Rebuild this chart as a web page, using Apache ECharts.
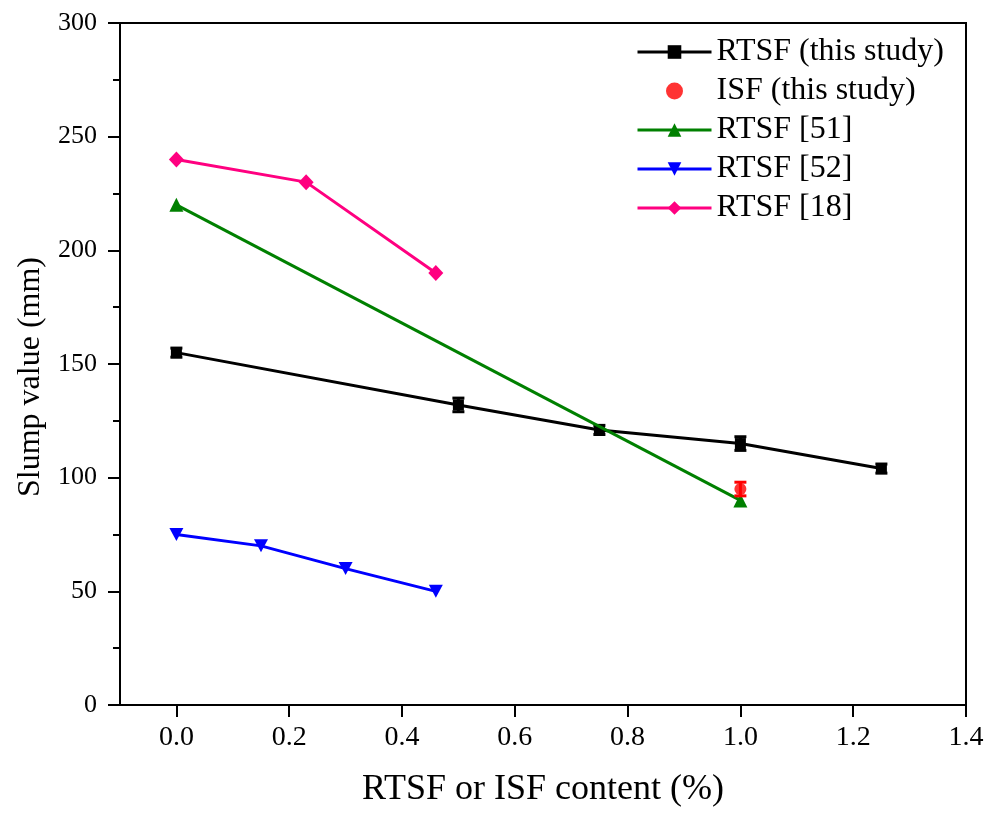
<!DOCTYPE html>
<html>
<head>
<meta charset="utf-8">
<script src="https://cdn.jsdelivr.net/npm/echarts@6/dist/echarts.min.js"></script>
<style>html,body{margin:0;padding:0;background:#fff;}#c{width:990px;height:818px;}</style>
</head>
<body>
<div id="c"></div>
<script>
var rtsfX = [0, 0.5, 0.75, 1.0, 1.25];
var rtsfY = [155, 132, 121, 115, 104];
var rtsfErr = [2, 3, 2, 3, 2];
var isfX = [1.0];
var isfY = [95];
var isfErr = [3];
var r51X = [0, 1.0];
var r51Y = [220, 90];
var r52X = [0, 0.15, 0.3, 0.46];
var r52Y = [75, 70, 60, 50];
var r18X = [0, 0.23, 0.46];
var r18Y = [240, 230, 190];
var xTicks = [0, 0.2, 0.4, 0.6, 0.8, 1.0, 1.2, 1.4];
var yTicks = [0, 50, 100, 150, 200, 250, 300];

function zip(xs, ys) { return xs.map(function (x, i) { return [x, ys[i]]; }); }
function zipErr(xs, ys, es) { return xs.map(function (x, i) { return [x, ys[i], es[i]]; }); }

function errRender(color) {
  return function (params, api) {
    var x = api.value(0), y = api.value(1), e = api.value(2);
    var hi = api.coord([x, y + e]);
    var lo = api.coord([x, y - e]);
    var w = 6;
    var st = { stroke: color, lineWidth: 3 };
    return {
      type: 'group',
      children: [
        { type: 'line', shape: { x1: hi[0], y1: hi[1], x2: lo[0], y2: lo[1] }, style: st },
        { type: 'line', shape: { x1: hi[0] - w, y1: hi[1], x2: hi[0] + w, y2: hi[1] }, style: st },
        { type: 'line', shape: { x1: lo[0] - w, y1: lo[1], x2: lo[0] + w, y2: lo[1] }, style: st }
      ]
    };
  };
}

var font = '"Liberation Serif", "Times New Roman", serif';
var chart = echarts.init(document.getElementById('c'));
chart.setOption({
  backgroundColor: '#fff',
  animation: false,
  textStyle: { fontFamily: font },
  grid: { left: 120, right: 24, top: 23, bottom: 113, show: true, borderColor: '#000', borderWidth: 2, backgroundColor: 'transparent' },
  legend: {
    orient: 'vertical', left: 631, top: 31,
    itemWidth: 74, itemHeight: 17, itemGap: 7,
    lineStyle: { width: 3 },
    textStyle: { fontFamily: font, fontSize: 32, color: '#000' },
    data: ['RTSF (this study)', 'ISF (this study)', 'RTSF [51]', 'RTSF [52]', 'RTSF [18]']
  },
  xAxis: {
    type: 'value', min: -0.1, max: 1.4,
    name: 'RTSF or ISF content (%)', nameLocation: 'middle', nameGap: 67,
    nameTextStyle: { fontFamily: font, fontSize: 36, color: '#000' },
    axisLine: { show: true, onZero: false, lineStyle: { color: '#000', width: 2 } },
    axisTick: { show: true, inside: false, length: 12, lineStyle: { color: '#000', width: 2 }, customValues: xTicks },
    minorTick: { show: true, splitNumber: 2, length: 7, lineStyle: { color: '#000', width: 2 } },
    axisLabel: { fontFamily: font, fontSize: 28, color: '#000', margin: 19, customValues: xTicks,
      formatter: function (v) { return v.toFixed(1); } },
    interval: 0.2,
    splitLine: { show: false }
  },
  yAxis: {
    type: 'value', min: 0, max: 300, interval: 50,
    name: 'Slump value (mm)', nameLocation: 'middle', nameGap: 73,
    nameTextStyle: { fontFamily: font, fontSize: 32, color: '#000', padding: [0, 26, 0, 0] },
    axisLine: { show: true, onZero: false, lineStyle: { color: '#000', width: 2 } },
    axisTick: { show: true, inside: false, length: 12, lineStyle: { color: '#000', width: 2 } },
    minorTick: { show: true, splitNumber: 2, length: 7, lineStyle: { color: '#000', width: 2 } },
    axisLabel: { fontFamily: font, fontSize: 26, color: '#000', margin: 23 },
    splitLine: { show: false }
  },
  series: [
    { name: 'RTSF (this study)', type: 'line', data: zip(rtsfX, rtsfY), symbol: 'rect', symbolSize: 11,
      lineStyle: { color: '#000', width: 3 }, itemStyle: { color: '#000' }, z: 2 },
    { type: 'custom', renderItem: errRender('#000'), data: zipErr(rtsfX, rtsfY, rtsfErr), z: 3, silent: true },
    { name: 'RTSF [51]', type: 'line', data: zip(r51X, r51Y), symbol: 'triangle', symbolSize: 14,
      lineStyle: { color: '#008000', width: 3 }, itemStyle: { color: '#008000' }, z: 4 },
    { name: 'RTSF [52]', type: 'line', data: zip(r52X, r52Y), symbol: 'path://M0,0 L10,0 L5,9 Z', symbolSize: [14, 13],
      lineStyle: { color: '#0000ff', width: 3 }, itemStyle: { color: '#0000ff' }, z: 4 },
    { name: 'RTSF [18]', type: 'line', data: zip(r18X, r18Y), symbol: 'diamond', symbolSize: [15, 16],
      lineStyle: { color: '#ff0080', width: 3 }, itemStyle: { color: '#ff0080' }, z: 4 },
    { name: 'ISF (this study)', type: 'scatter', data: zip(isfX, isfY), symbol: 'circle', symbolSize: 12,
      itemStyle: { color: '#ff0000' }, z: 5 },
    { type: 'custom', renderItem: errRender('#ff0000'), data: zipErr(isfX, isfY, isfErr), z: 6, silent: true }
  ]
});
</script>
</body>
</html>
